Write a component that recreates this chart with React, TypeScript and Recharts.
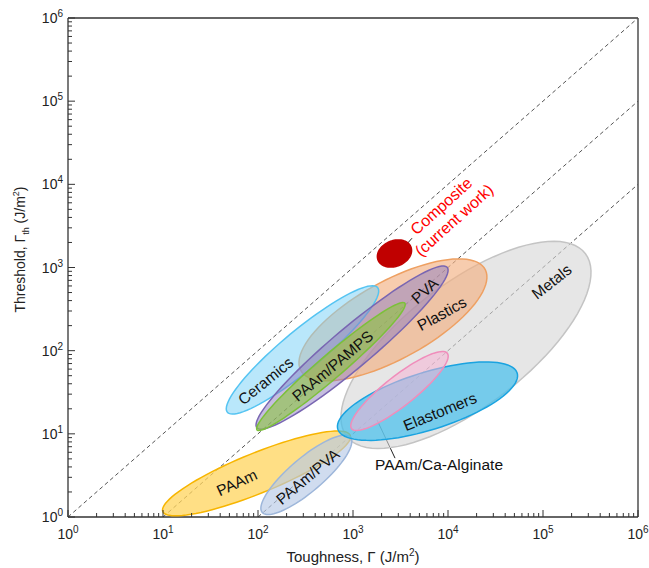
import { ScatterChart, Scatter, XAxis, YAxis, ReferenceLine, Label } from 'recharts';

const FONT = '"Liberation Sans", Arial, Helvetica, sans-serif';

// axis ticks: decade exponents and the minor steps between them
const decadeExponents = [0, 1, 2, 3, 4, 5, 6];
const minorSteps = [2, 3, 4, 5, 6, 7, 8, 9];

// material classes, drawn back to front
const regionNames = [
  'Metals',
  'Plastics',
  'Ceramics',
  'PAAm',
  'PAAm/PVA',
  'Elastomers',
  'PAAm/Ca-Alginate',
  'PVA',
  'PAAm/PAMPS',
  'Composite',
];
// lower-left end of each region's long axis [toughness, threshold] in J/m²
const regionFrom = [
  [916, 8.6],
  [290, 55],
  [48, 18],
  [10, 1.15],
  [112, 1.12],
  [697, 11.1],
  [976, 11.4],
  [98, 11.7],
  [98, 11.1],
  [1890, 1156],
];
// upper-right end of each region's long axis
const regionTo = [
  [261000, 1600],
  [23900, 1000],
  [1800, 580],
  [930, 9.7],
  [930, 9.2],
  [53100, 55],
  [9750, 94],
  [9750, 1010],
  [3500, 374],
  [3950, 1877],
];
// half thickness across the long axis, in decades
const regionSpread = [0.7, 0.45, 0.225, 0.236, 0.19, 0.34, 0.17, 0.225, 0.135, 0.15];

// text labels
const labelTexts = [
  ['Metals'],
  ['Plastics'],
  ['Ceramics'],
  ['PAAm'],
  ['PAAm/PVA'],
  ['Elastomers'],
  ['PAAm/Ca-Alginate'],
  ['PVA'],
  ['PAAm/PAMPS'],
  ['Composite', '(current work)'],
];
const labelAt = [
  [124000, 670],
  [8650, 276],
  [121, 43],
  [60, 2.56],
  [336, 3.03],
  [8240, 18.3],
  [8040, 4.22],
  [5730, 521],
  [615, 65],
  [10000, 4460],
];
const labelAngle = [-38, -29, -39, -25, -40, -22, 0, -42, -40, -42];

// leader lines [from, to]
const leaders = [
  [[3610, 1864], [4180, 2250]],
  [[1790, 14.7], [2770, 5.1]],
];

// guide lines Γth = Γ, Γ/10, Γ/100
const guideStarts = [[1, 1], [10, 1], [100, 1]];
const guideEnds = [[1e6, 1e6], [1e6, 1e5], [1e6, 1e4]];

const regionStyle: Record<string, { fill: string; stroke: string; opacity: number }> = {
  Metals: { fill: '#d6d6d6', stroke: '#c4c4c4', opacity: 0.6 },
  Plastics: { fill: '#f2b082', stroke: '#eea062', opacity: 0.65 },
  Ceramics: { fill: '#7fd4f8', stroke: '#55c4f2', opacity: 0.55 },
  PAAm: { fill: '#ffd45c', stroke: '#f7b500', opacity: 0.75 },
  'PAAm/PVA': { fill: '#b7c9e6', stroke: '#9db6da', opacity: 0.65 },
  Elastomers: { fill: '#45bfec', stroke: '#1aa3e0', opacity: 0.7 },
  'PAAm/Ca-Alginate': { fill: '#f6b3d3', stroke: '#f08dbb', opacity: 0.55 },
  PVA: { fill: '#8b7bbf', stroke: '#7966b2', opacity: 0.5 },
  'PAAm/PAMPS': { fill: '#8cc540', stroke: '#7cc03a', opacity: 0.6 },
  Composite: { fill: '#c00000', stroke: '#c00000', opacity: 1 },
};

const allTicks: number[] = [];
decadeExponents.forEach((e) => {
  allTicks.push(10 ** e);
  if (e < 6) minorSteps.forEach((m) => allTicks.push(m * 10 ** e));
});

function ellipse(from: number[], to: number[], spread: number) {
  const x1 = Math.log10(from[0]);
  const y1 = Math.log10(from[1]);
  const x2 = Math.log10(to[0]);
  const y2 = Math.log10(to[1]);
  const cx = (x1 + x2) / 2;
  const cy = (y1 + y2) / 2;
  const ux = (x2 - x1) / 2;
  const uy = (y2 - y1) / 2;
  const len = Math.hypot(ux, uy);
  const vx = (-uy / len) * spread;
  const vy = (ux / len) * spread;
  const pts = [];
  for (let i = 0; i < 90; i++) {
    const t = (i / 90) * Math.PI * 2;
    pts.push({
      x: 10 ** (cx + ux * Math.cos(t) + vx * Math.sin(t)),
      y: 10 ** (cy + uy * Math.cos(t) + vy * Math.sin(t)),
    });
  }
  return pts;
}

const exponentOf = (v: number) => {
  const l = Math.log10(v);
  return Math.abs(l - Math.round(l)) < 1e-9 ? Math.round(l) : null;
};

function XTick({ x, y, payload }: any) {
  const exp = exponentOf(payload.value);
  return (
    <g>
      <line x1={x} x2={x} y1={y} y2={y - (exp !== null ? 7 : 4)} stroke="#333" />
      {exp !== null && (
        <text x={x} y={y + 22} textAnchor="middle" fontSize={14} fill="#222" fontFamily={FONT}>
          10<tspan dy={-6} fontSize={10}>{exp}</tspan>
        </text>
      )}
    </g>
  );
}

function YTick({ x, y, payload }: any) {
  const exp = exponentOf(payload.value);
  return (
    <g>
      <line x1={x} x2={x + (exp !== null ? 7 : 4)} y1={y} y2={y} stroke="#333" />
      {exp !== null && (
        <text x={x - 5} y={y + 5} textAnchor="end" fontSize={14} fill="#222" fontFamily={FONT}>
          10<tspan dy={-6} fontSize={10}>{exp}</tspan>
        </text>
      )}
    </g>
  );
}

function XTitle({ viewBox }: any) {
  const cx = viewBox.x + viewBox.width / 2;
  return (
    <text x={cx} y={viewBox.y + 45} textAnchor="middle" fontSize={15} fill="#222" fontFamily={FONT}>
      Toughness, Γ (J/m<tspan dy={-6} fontSize={10}>2</tspan>
      <tspan dy={6}>)</tspan>
    </text>
  );
}

function YTitle({ viewBox }: any) {
  const cy = viewBox.y + viewBox.height / 2 - 18;
  const x = viewBox.x + 25;
  return (
    <text x={x} y={cy} transform={`rotate(-90 ${x} ${cy})`} textAnchor="middle" fontSize={14} fill="#222" fontFamily={FONT}>
      Threshold, Γ<tspan dy={4} fontSize={9}>th</tspan>
      <tspan dy={-4}> (J/m</tspan>
      <tspan dy={-6} fontSize={9}>2</tspan>
      <tspan dy={6}>)</tspan>
    </text>
  );
}

const outline = (name: string) => (props: any) => {
  const s = regionStyle[name];
  const pts = (props.points || []).map((p: any) => `${p.x},${p.y}`).join(' ');
  return (
    <polygon
      points={pts}
      fill={s.fill}
      fillOpacity={s.opacity}
      stroke={s.stroke}
      strokeWidth={1.5}
    />
  );
};

const NoDot = () => <g />;

function LabelShape(props: any) {
  const { cx, cy, payload } = props;
  const lines: string[] = labelTexts[payload.i];
  const red = regionNames[payload.i] === 'Composite';
  const step = 19;
  const y0 = -((lines.length - 1) * step) / 2;
  return (
    <text
      transform={`translate(${cx} ${cy}) rotate(${labelAngle[payload.i]})`}
      textAnchor="middle"
      fontSize={red ? 16 : 15.5}
      fill={red ? '#ff0000' : '#111'}
      fontFamily={FONT}
    >
      {lines.map((t, k) => (
        <tspan key={k} x={0} y={y0 + k * step + 5}>
          {t}
        </tspan>
      ))}
    </text>
  );
}

const labelData = labelAt.map((p, i) => ({ x: p[0], y: p[1], i }));

export default function App() {
  return (
    <div style={{ position: 'absolute', left: 0, top: 0, background: '#fff' }}>
      <ScatterChart width={649} height={568} margin={{ top: 18, right: 11, bottom: 21, left: 0 }}>
        <XAxis
          type="number"
          dataKey="x"
          scale="log"
          domain={[1, 1e6]}
          allowDataOverflow
          ticks={allTicks}
          interval={0}
          tick={<XTick />}
          tickLine={false}
          tickSize={0}
          tickMargin={0}
          height={30}
          axisLine={{ stroke: '#333', strokeWidth: 1.3 }}
        >
          <Label content={<XTitle />} />
        </XAxis>
        <YAxis
          type="number"
          dataKey="y"
          scale="log"
          domain={[1, 1e6]}
          allowDataOverflow
          ticks={allTicks}
          interval={0}
          tick={<YTick />}
          tickLine={false}
          tickSize={0}
          tickMargin={0}
          width={68}
          axisLine={{ stroke: '#333', strokeWidth: 1.3 }}
        >
          <Label content={<YTitle />} />
        </YAxis>
        <ReferenceLine y={1e6} stroke="#333" strokeWidth={1.3} />
        <ReferenceLine x={1e6} stroke="#333" strokeWidth={1.3} />
        {guideStarts.map((s, i) => (
          <ReferenceLine
            key={`g${i}`}
            segment={[
              { x: s[0], y: s[1] },
              { x: guideEnds[i][0], y: guideEnds[i][1] },
            ]}
            stroke="#555"
            strokeDasharray="4 3"
            strokeWidth={1}
          />
        ))}
        {regionNames.map((name, i) => (
          <Scatter
            key={name}
            name={name}
            data={ellipse(regionFrom[i], regionTo[i], regionSpread[i])}
            shape={NoDot}
            line={outline(name)}
            isAnimationActive={false}
          />
        ))}
        {leaders.map((l, i) => (
          <ReferenceLine
            key={`l${i}`}
            segment={[
              { x: l[0][0], y: l[0][1] },
              { x: l[1][0], y: l[1][1] },
            ]}
            stroke="#222"
            strokeWidth={1}
          />
        ))}
        <Scatter data={labelData} shape={LabelShape} isAnimationActive={false} />
      </ScatterChart>
    </div>
  );
}
